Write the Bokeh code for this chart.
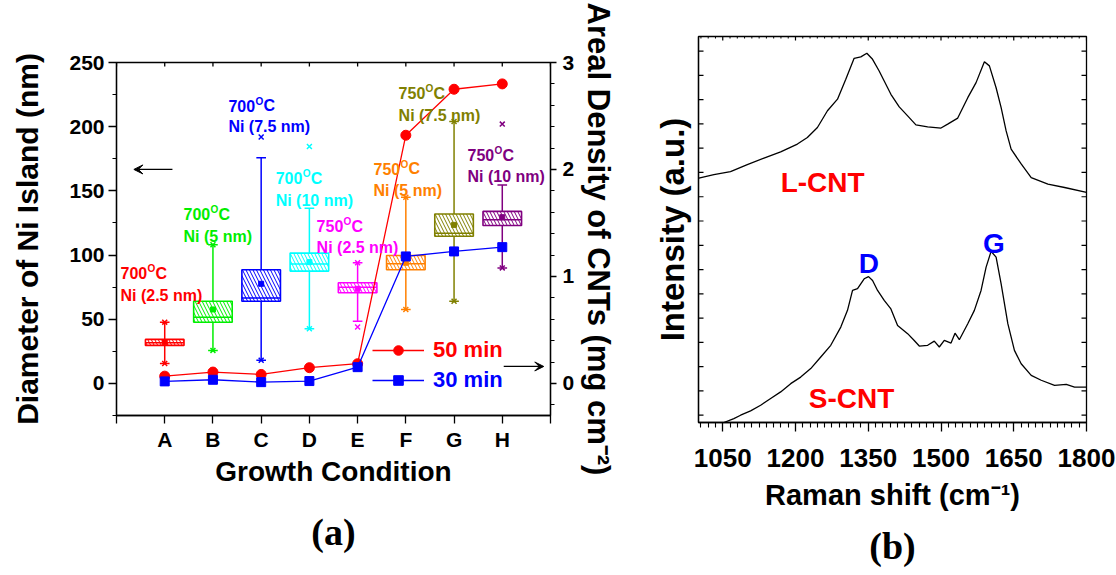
from bokeh.plotting import figure
from bokeh.models import (Range1d, LinearAxis, FixedTicker, Label, Arrow, VeeHead,
                          Legend, LegendItem, ColumnDataSource, Title)
from bokeh.layouts import row, column
from bokeh.embed import file_html
from bokeh.resources import INLINE

# ---------------- data : panel (a) ----------------
categories = ["A", "B", "C", "D", "E", "F", "G", "H"]
box_colors = ["#FF0000", "#00EE00", "#0000FF", "#00FFFF", "#FF00FF", "#FF8000", "#808000", "#800080"]
q1 = [29.6, 47.7, 64.0, 87.5, 70.6, 88.5, 114.7, 123.0]
q3 = [34.3, 64.0, 88.5, 101.5, 78.4, 99.7, 132.0, 134.0]
median = [31.7, 51.6, 66.5, 93.0, 75.0, 93.2, 117.0, 127.5]
mean = [32.0, 57.6, 77.6, 94.5, 73.7, 94.0, 123.5, 129.5]
whisker_hi = [47.7, 108.0, 175.7, 136.5, 94.0, 145.0, 204.0, 154.6]
whisker_lo = [15.5, 25.7, 18.0, 42.6, 48.5, 57.6, 64.0, 90.0]
pct_hi = [47.7, 108.0, 192.0, 184.6, 94.0, 145.0, 204.0, 202.0]
pct_lo = [15.5, 25.7, 18.0, 42.6, 43.9, 57.6, 64.0, 90.0]
density_50min = [0.068, 0.106, 0.084, 0.147, 0.184, 2.32, 2.75, 2.80]
density_30min = [0.019, 0.034, 0.012, 0.022, 0.152, 1.187, 1.234, 1.274]
temperatures = ["700", "700", "700", "700", "750", "750", "750", "750"]
ni_films = ["Ni (2.5 nm)", "Ni (5 nm)", "Ni (7.5 nm)", "Ni (10 nm)",
            "Ni (2.5 nm)", "Ni (5 nm)", "Ni (7.5 nm)", "Ni (10 nm)"]
left_ticks = [0, 50, 100, 150, 200, 250]
right_ticks = [0, 1, 2, 3]

# ---------------- data : panel (b) ----------------
shift_L = [1000.7, 1031.7, 1066, 1100.6, 1135, 1169.4, 1203.9, 1224.5, 1245.2, 1265.9,
           1286.6, 1303.7, 1320.9, 1334.7, 1347.1, 1358.9, 1372.5, 1382.9, 1396.7, 1413.9,
           1431.2, 1448.3, 1472.5, 1500, 1513.8, 1534.5, 1555.2, 1572.3, 1589.5, 1599.8,
           1613.6, 1624, 1634.3, 1644.6, 1665.3, 1686, 1720.5, 1754.8, 1800]
intens_L = [9.77, 9.91, 10.03, 10.32, 10.59, 10.85, 11.17, 11.44, 11.85, 12.54,
            13.02, 13.84, 14.70, 14.76, 14.91, 14.66, 14.18, 13.77, 13.22, 12.70,
            12.33, 11.96, 11.88, 11.83, 11.99, 12.24, 13.08, 13.70, 14.56, 14.39,
            13.49, 12.67, 11.71, 10.96, 10.35, 9.79, 9.52, 9.38, 9.18]
shift_S = [1052.3, 1072.9, 1086.8, 1107.4, 1128.1, 1148.8, 1169.4, 1190.1, 1210.7, 1231.4,
           1252.1, 1272.7, 1293.4, 1307.2, 1317.6, 1327.9, 1341.6, 1350.6, 1358.9, 1369.2,
           1382.9, 1396.7, 1410.5, 1431.2, 1444.8, 1455.2, 1472.5, 1486.2, 1496.5, 1506.8,
           1520.7, 1528.9, 1537.8, 1555.2, 1568.8, 1582.6, 1593, 1603.3, 1613.6, 1624,
           1637.8, 1651.4, 1665.3, 1686, 1706.6, 1734.1, 1758.3, 1775.4, 1800]
intens_S = [-0.30, -0.14, 0.0, 0.18, 0.41, 0.69, 0.96, 1.30, 1.57, 1.92,
            2.40, 2.88, 3.63, 4.32, 5.14, 5.21, 5.62, 5.71, 5.55, 5.14,
            4.73, 4.38, 3.70, 3.36, 3.08, 2.85, 2.88, 3.05, 2.81, 3.08,
            2.97, 3.38, 3.11, 3.77, 4.32, 5.14, 6.10, 6.75, 6.51, 5.41,
            3.77, 2.67, 2.12, 1.64, 1.44, 1.23, 1.27, 1.16, 1.16]
raman_ticks = [1050, 1200, 1350, 1500, 1650, 1800]
intensity_ticks = list(range(0, 16))

FONT = "Liberation Sans"

def style_axis(ax, label_size="30px", tick_size="21px"):
    ax.axis_line_color = "black"
    ax.axis_line_width = 1.3
    ax.major_tick_line_color = "black"
    ax.major_tick_line_width = 1.3
    ax.minor_tick_line_color = "black"
    ax.minor_tick_line_width = 1.1
    ax.major_label_text_font = FONT
    ax.major_label_text_font_style = "bold"
    ax.major_label_text_font_size = tick_size
    ax.major_label_text_color = "black"
    ax.axis_label_text_font = FONT
    ax.axis_label_text_font_style = "bold"
    ax.axis_label_text_font_size = label_size
    ax.axis_label_text_color = "black"

# ================= panel (a) =================
A_W, A_H, A_L, A_R, A_T, A_B = 630, 575, 116, 80, 62, 160
xs = list(range(1, len(categories) + 1))
pa = figure(width=A_W, height=A_H, x_range=Range1d(0, 9), y_range=Range1d(-25, 250),
            output_backend="svg", toolbar_location=None,
            min_border_left=A_L, min_border_right=A_R, min_border_top=A_T, min_border_bottom=A_B)
pa.extra_y_ranges = {"dens": Range1d(-0.3, 3)}
pa.xgrid.visible = False
pa.ygrid.visible = False
pa.outline_line_color = "black"
pa.outline_line_width = 1.3
pa.background_fill_color = "white"
pa.border_fill_color = "white"

xa = pa.xaxis[0]
xa.ticker = FixedTicker(ticks=list(range(0, 10)), minor_ticks=[])
xa.major_label_overrides = {0: "", 9: "", **{i + 1: c for i, c in enumerate(categories)}}
style_axis(xa, label_size="28px", tick_size="21px")
xa.axis_label = "Growth Condition"
xa.major_tick_out = 8
xa.major_tick_in = 0
xa.major_label_standoff = 4
xa.axis_label_standoff = 2

ya = pa.yaxis[0]
ya.ticker = FixedTicker(ticks=left_ticks, minor_ticks=[-25, 25, 75, 125, 175, 225])
style_axis(ya, tick_size="21px")
ya.axis_label = "Diameter of Ni Island (nm)"
ya.major_tick_out = 8
ya.major_tick_in = 0
ya.minor_tick_out = 4
ya.minor_tick_in = 0
ya.major_label_standoff = 4
ya.axis_label_standoff = 22

yr = LinearAxis(y_range_name="dens",
                ticker=FixedTicker(ticks=right_ticks,
                                   minor_ticks=[-0.2, 0.2, 0.4, 0.6, 0.8, 1.2, 1.4, 1.6, 1.8,
                                                2.2, 2.4, 2.6, 2.8]),
                axis_label="Areal Density of CNTs (mg cm\u207b\u00b2)")
style_axis(yr, label_size="31px", tick_size="21px")
yr.major_tick_out = 6
yr.major_tick_in = 0
yr.minor_tick_out = 4
yr.minor_tick_in = 0
yr.major_label_standoff = 6
yr.axis_label_standoff = 4
pa.add_layout(yr, "right")

# inward ticks on the top edge of panel (a)
a_ppu = (A_H - A_T - A_B) / (250 + 25)
top_x = list(range(0, 10))
pa.segment(x0=top_x, y0=[250] * len(top_x), x1=top_x, y1=[250 - 4 / a_ppu] * len(top_x),
           line_color="black", line_width=1.3)

src = ColumnDataSource(dict(
    x=xs, q1=q1, q3=q3, med=median, mean=mean, whi=whisker_hi, wlo=whisker_lo,
    phi=pct_hi, plo=pct_lo, color=box_colors,
    xl=[x - 0.4 for x in xs], xr=[x + 0.4 for x in xs],
    cl=[x - 0.1 for x in xs], cr=[x + 0.1 for x in xs]))

pa.segment(x0="x", y0="q3", x1="x", y1="whi", source=src, line_color="color", line_width=1.5)
pa.segment(x0="x", y0="q1", x1="x", y1="wlo", source=src, line_color="color", line_width=1.5)
pa.segment(x0="cl", y0="whi", x1="cr", y1="whi", source=src, line_color="color", line_width=1.5)
pa.segment(x0="cl", y0="wlo", x1="cr", y1="wlo", source=src, line_color="color", line_width=1.5)
pa.quad(left="xl", right="xr", bottom="q1", top="q3", source=src, fill_color="white",
        line_color="color", line_width=1.6, hatch_pattern="left_diagonal_line",
        hatch_color="color", hatch_scale=7, hatch_weight=1)
pa.segment(x0="xl", y0="med", x1="xr", y1="med", source=src, line_color="color", line_width=1.5)
pa.scatter(x="x", y="mean", source=src, marker="square", size=5, fill_color="color", line_color="color")
pa.scatter(x="x", y="phi", source=src, marker="x", size=7, line_color="color", line_width=1.5)
pa.scatter(x="x", y="plo", source=src, marker="x", size=7, line_color="color", line_width=1.5)

l50 = pa.line(xs, density_50min, y_range_name="dens", line_color="#FF0000", line_width=1.3)
m50 = pa.scatter(xs, density_50min, y_range_name="dens", marker="circle", size=10,
                 fill_color="#FF0000", line_color="#FF0000")
l30 = pa.line(xs, density_30min, y_range_name="dens", line_color="#0000FF", line_width=1.3)
m30 = pa.scatter(xs, density_30min, y_range_name="dens", marker="square", size=9,
                 fill_color="#0000FF", line_color="#0000FF")

for items, loc, col in (([LegendItem(label="50 min", renderers=[l50, m50])], (256, 52), "#FF0000"),
                        ([LegendItem(label="30 min", renderers=[l30, m30])], (256, 22), "#0000FF")):
    lg = Legend(items=items, location=loc, label_text_font=FONT, label_text_font_style="bold",
                label_text_font_size="22px", label_text_color=col, glyph_width=52,
                glyph_height=24, label_height=24, label_standoff=9, padding=0, margin=0,
                border_line_alpha=0, background_fill_alpha=0)
    pa.add_layout(lg)

pa.add_layout(Arrow(end=VeeHead(size=9, fill_color="black", line_color="black"),
                    x_start=1.16, y_start=166.7, x_end=0.36, y_end=166.7, line_width=1.3))
pa.add_layout(Arrow(end=VeeHead(size=9, fill_color="black", line_color="black"),
                    x_start=8.03, y_start=13.2, x_end=8.86, y_end=13.2,
                    line_width=1.3))

# label anchor positions (x, baseline of temperature line, baseline of Ni line)
label_pos = [(0.083, 85.7, 68.5), (1.39, 131.6, 114.5), (2.32, 216.5, 200.2),
             (3.30, 159.7, 142.5), (4.15, 122.3, 105.9), (5.33, 167.4, 150.3),
             (5.85, 225.9, 208.7), (7.28, 177.6, 161.2)]
for (lx, y1, y2), t, ni, col in zip(label_pos, temperatures, ni_films, box_colors):
    common = dict(text_font=FONT, text_font_style="bold", text_color=col,
                  text_align="left", text_baseline="alphabetic")
    pa.add_layout(Label(x=lx, y=y1, text=t, text_font_size="16px", **common))
    pa.add_layout(Label(x=lx, y=y1, x_offset=27, y_offset=4.5, text="O", text_font_size="10px", **common))
    pa.add_layout(Label(x=lx, y=y1, x_offset=35, text="C", text_font_size="16px", **common))
    pa.add_layout(Label(x=lx, y=y2, text=ni, text_font_size="16px", **common))

pa.add_layout(Title(text="(a)", align="center", text_font="Liberation Serif",
                    text_font_style="bold", text_font_size="38px", text_color="black",
                    standoff=38), "below")

# ================= panel (b) =================
B_W, B_H, B_L, B_R, B_T, B_B = 486, 575, 68, 30, 36, 153
pb = figure(width=B_W, height=B_H, x_range=Range1d(1000, 1800), y_range=Range1d(-0.3, 15.6),
            output_backend="svg", toolbar_location=None,
            min_border_left=B_L, min_border_right=B_R, min_border_top=B_T, min_border_bottom=B_B)
pb.xgrid.visible = False
pb.ygrid.visible = False
pb.outline_line_color = "black"
pb.outline_line_width = 1.3
pb.background_fill_color = "white"
pb.border_fill_color = "white"

pb.line(shift_L, intens_L, line_color="black", line_width=1.3)
pb.line(shift_S, intens_S, line_color="black", line_width=1.3)

raman_minor = [v for v in range(1005, 1800, 15) if v not in raman_ticks]
xb = pb.xaxis[0]
xb.ticker = FixedTicker(ticks=raman_ticks, minor_ticks=raman_minor)
style_axis(xb, label_size="29px", tick_size="26px")
xb.axis_label = "Raman shift (cm\u207b\u00b9)"
xb.major_tick_out = 9
xb.major_tick_in = 0
xb.minor_tick_out = 5
xb.minor_tick_in = 0
xb.major_label_standoff = 17
xb.axis_label_standoff = 9

yb = pb.yaxis[0]
yb.ticker = FixedTicker(ticks=[], minor_ticks=[])
style_axis(yb, label_size="33px")
yb.axis_label = "Intensity (a.u.)"
yb.major_tick_in = 0
yb.major_tick_out = 0
yb.major_label_standoff = 0
yb.axis_label_standoff = 8

# inward ticks drawn on the left, right and top edges of panel (b)
b_xpp = (1800 - 1000) / (B_W - B_L - B_R)
b_ypp = (15.6 + 0.3) / (B_H - B_T - B_B)
n_i = len(intensity_ticks)
pb.segment(x0=[1000] * n_i, y0=intensity_ticks, x1=[1000 + 5 * b_xpp] * n_i, y1=intensity_ticks,
           line_color="black", line_width=1.2)
pb.segment(x0=[1800] * n_i, y0=intensity_ticks, x1=[1800 - 5 * b_xpp] * n_i, y1=intensity_ticks,
           line_color="black", line_width=1.2)
pb.segment(x0=raman_ticks, y0=[15.6] * len(raman_ticks), x1=raman_ticks,
           y1=[15.6 - 4 * b_ypp] * len(raman_ticks), line_color="black", line_width=1.2)
pb.segment(x0=raman_minor, y0=[15.6] * len(raman_minor), x1=raman_minor,
           y1=[15.6 - 2 * b_ypp] * len(raman_minor), line_color="black", line_width=1.0)

for txt, tx, ty, col in (("L-CNT", 1169.4, 9.58, "#FF0000"), ("S-CNT", 1227.3, 0.70, "#FF0000"),
                         ("D", 1330.6, 6.25, "#0000FF"), ("G", 1586.8, 7.07, "#0000FF")):
    pb.add_layout(Label(x=tx, y=ty, text=txt, text_font=FONT, text_font_style="bold",
                        text_font_size="28px", text_color=col, text_align="left",
                        text_baseline="alphabetic"))

pb.add_layout(Title(text="(b)", align="center", text_font="Liberation Serif",
                    text_font_style="bold", text_font_size="38px", text_color="black",
                    standoff=18, offset=-10), "below")

layout = row(pa, column(pb))
open("out.html", "w").write(file_html(layout, INLINE))
